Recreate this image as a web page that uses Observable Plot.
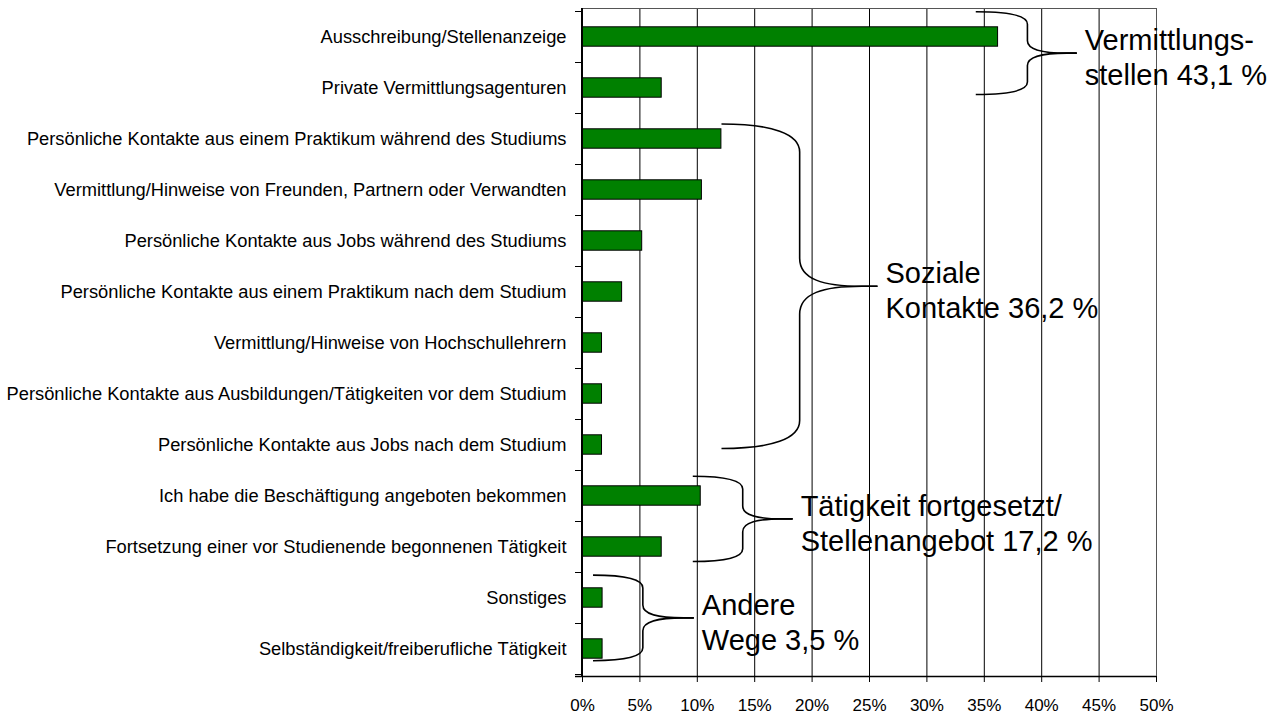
<!DOCTYPE html>
<html>
<head>
<meta charset="utf-8">
<script src="https://cdn.jsdelivr.net/npm/d3@7"></script>
<script src="https://cdn.jsdelivr.net/npm/@observablehq/plot@0.6"></script>
<style>
  html, body { margin: 0; padding: 0; background: #fff; }
  #chart { width: 1280px; height: 715px; }
</style>
</head>
<body>
<div id="chart"></div>
<script>
// ---- Data ----
const categories = [
  "Ausschreibung/Stellenanzeige",
  "Private Vermittlungsagenturen",
  "Persönliche Kontakte aus einem Praktikum während des Studiums",
  "Vermittlung/Hinweise von Freunden, Partnern oder Verwandten",
  "Persönliche Kontakte aus Jobs während des Studiums",
  "Persönliche Kontakte aus einem Praktikum nach dem Studium",
  "Vermittlung/Hinweise von Hochschullehrern",
  "Persönliche Kontakte aus Ausbildungen/Tätigkeiten vor dem Studium",
  "Persönliche Kontakte aus Jobs nach dem Studium",
  "Ich habe die Beschäftigung angeboten bekommen",
  "Fortsetzung einer vor Studienende begonnenen Tätigkeit",
  "Sonstiges",
  "Selbständigkeit/freiberufliche Tätigkeit"
];
const values = [36.2, 6.9, 12.1, 10.4, 5.2, 3.45, 1.7, 1.7, 1.7, 10.3, 6.9, 1.75, 1.75];
const xTicks = [0, 5, 10, 15, 20, 25, 30, 35, 40, 45, 50];

const groupLabels = [
  ["Vermittlungs-", "stellen 43,1 %"],
  ["Soziale", "Kontakte 36,2 %"],
  ["Tätigkeit fortgesetzt/", "Stellenangebot 17,2 %"],
  ["Andere", "Wege 3,5 %"]
];
const groupFirst = [0, 2, 9, 11];
const groupLast = [1, 8, 10, 12];

// ---- Layout (brace placement, in x-% and px offsets from band centres) ----
const braceLayout = [
  {x0: 34.3, xv: 38.8, xt: 43.1, top: -24.7, bottom: 7},
  {x0: 12.15, xv: 18.96, xt: 25.74, top: -14.5, bottom: 4},
  {x0: 9.65, xv: 14.0, xt: 18.35, top: -19.3, bottom: 15},
  {x0: 0.96, xv: 5.3, xt: 9.74, top: -22.4, bottom: 12.2}
];

const table = categories.map((c, i) => ({category: c, value: values[i]}));

const FONT = "'Liberation Sans', Arial, Helvetica, sans-serif";

function annotations(index, scales, values_, dimensions) {
  const x = scales.x, y = scales.y;
  const bw = y.bandwidth ? y.bandwidth() : 51.4;
  const {width, height, marginLeft, marginRight, marginTop, marginBottom} = dimensions;
  const g = d3.create("svg:g");
  const left = x(0), bottom = height - marginBottom, top = marginTop, right = width - marginRight;

  // band-boundary ticks on the y axis
  const bounds = categories.map(c => y(c)).concat([y(categories[categories.length - 1]) + bw]);
  bounds.forEach(b => {
    g.append("line").attr("x1", left - 7).attr("x2", left).attr("y1", Math.round(b) + 0.5).attr("y2", Math.round(b) + 0.5)
      .attr("stroke", "#000").attr("stroke-width", 1);
  });
  // axis lines
  g.append("line").attr("x1", left).attr("x2", left).attr("y1", top).attr("y2", bottom + 1)
    .attr("stroke", "#000").attr("stroke-width", 2);
  g.append("line").attr("x1", left - 7).attr("x2", right).attr("y1", bottom + 0.5).attr("y2", bottom + 0.5)
    .attr("stroke", "#000").attr("stroke-width", 1.5);

  // braces + labels
  groupLabels.forEach((lines, i) => {
    const L = braceLayout[i];
    const yTop = y(categories[groupFirst[i]]) + bw / 2 + L.top;
    const yBot = y(categories[groupLast[i]]) + bw / 2 + L.bottom;
    const yMid = (yTop + yBot) / 2;
    const X0 = x(L.x0), XV = x(L.xv), XT = x(L.xt);
    const r = Math.min(28, 0.3 * (yBot - yTop) / 2);
    const half = (ya, s) => {
      return `M${X0},${ya} C${X0 + (XV - X0) * 0.65},${ya} ${XV},${ya + s * r * 0.35} ${XV},${ya + s * r}` +
        ` L${XV},${yMid - s * r}` +
        ` C${XV},${yMid - s * r * 0.25} ${XV + (XT - XV) * 0.3},${yMid} ${XT - (XT - XV) * 0.2},${yMid} L${XT},${yMid}`;
    };
    g.append("path").attr("d", half(yTop, 1)).attr("fill", "none").attr("stroke", "#000").attr("stroke-width", 1.6);
    g.append("path").attr("d", half(yBot, -1)).attr("fill", "none").attr("stroke", "#000").attr("stroke-width", 1.6);
    const t = g.append("text").attr("font-family", FONT).attr("font-size", 29).attr("fill", "#000")
      .attr("text-anchor", "start");
    lines.forEach((ln, k) => {
      t.append("tspan").attr("x", XT + 8).attr("y", yMid - 3 + k * 35).attr("text-anchor", "start").text(ln);
    });
  });
  return g.node();
}

const chart = Plot.plot({
  width: 1280,
  height: 715,
  marginLeft: 582,
  marginRight: 124,
  marginTop: 8,
  marginBottom: 39,
  style: {fontFamily: FONT, fontSize: "17px", background: "#fff", color: "#000", overflow: "visible"},
  x: {domain: [0, 50], ticks: xTicks, tickFormat: d => d + "%"},
  y: {domain: categories, padding: 0},
  marks: [
    Plot.gridX(xTicks.slice(1, -1), {stroke: "#000", strokeOpacity: 1, strokeWidth: 1}),
    Plot.frame({stroke: "#555", strokeWidth: 1}),
    Plot.barX(table, {x: "value", y: "category", fill: "#008000", stroke: "#000", strokeWidth: 1, insetTop: 15.8, insetBottom: 15.8}),
    Plot.axisX(xTicks, {anchor: "bottom", tickSize: 6, tickPadding: 16, fontSize: 17, tickFormat: d => d + "%", label: null, stroke: "#000", fill: "#000"}),
    Plot.axisY({anchor: "left", tickSize: 0, tickPadding: 16, fontSize: 18.3, label: null, fill: "#000"}),
    annotations
  ]
});
document.getElementById("chart").appendChild(chart);
</script>
</body>
</html>
